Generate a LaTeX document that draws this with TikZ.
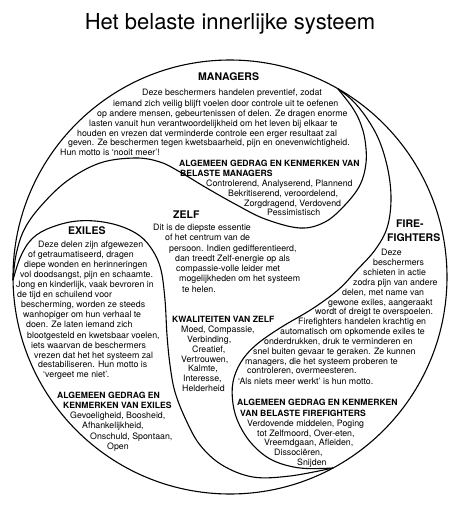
\documentclass[tikz,border=0pt]{standalone}
\usepackage{fontspec}
\setmainfont{TeX Gyre Heros}
\tikzset{
  body/.style={inner sep=0pt, anchor=base west, font=\fontsize{8.8}{10}\selectfont},
  subhead/.style={body, font=\fontsize{8.6}{10}\selectfont\bfseries},
  head/.style={inner sep=0pt, anchor=base west, font=\fontsize{10.5}{12}\selectfont\bfseries},
  border/.style={line width=1.1pt}
}
\begin{document}
\begin{tikzpicture}[x=1pt,y=-1pt]
\useasboundingbox (0,0) rectangle (458,519);

% title
\node[inner sep=0pt, anchor=base, font=\fontsize{22}{26}\selectfont] (title) at (230,30) {Het belaste innerlijke systeem};

% outer circle
\draw[border] (230,277) circle (217pt);

% managers boundary
\draw[border] plot[smooth, tension=0.6] coordinates {(13,280) (16,255) (24,230) (40,207) (67,181) (100,163) (135,158) (160,162) (180,172) (205,187) (235,204) (265,219) (300,228) (325,222) (345,205) (360,185) (366,163) (365,140) (360,122) (352,107) (338,89)};

% exiles boundary
\draw[border] plot[smooth, tension=0.6] coordinates {(13,280) (20,258) (30,241) (45,230) (70,222) (95,221) (120,226) (140,236) (153,251) (161,270) (165,300) (167,335) (170,365) (175,392) (186,420) (200,445) (222,465) (253,477) (290,476) (333,468)};

% firefighters boundary
\draw[border] plot[smooth, tension=0.6] coordinates {(338,89) (352,100) (366,117) (379,140) (388,170) (391,200) (387,228) (375,250) (357,270) (338,290) (312,309) (280,328) (256,345) (241,362) (233,382) (233,404) (239,424) (252,444) (272,460) (300,468) (333,468)};

% managers
\node[head] (mgrhead) at (198,80) {MANAGERS};
\foreach \x/\y/\words [count=\i] in {142/95/{Deze beschermers handelen preventief, zodat},
    113/106/{iemand zich veilig blijft voelen door controle uit te oefenen},
    97/116/{op andere mensen, gebeurtenissen of delen. Ze dragen enorme},
    89/126/{lasten vanuit hun verantwoordelijkheid om het leven bij elkaar te},
    77/136/{houden en vrezen dat verminderde controle een erger resultaat zal},
    68/145/{geven. Ze beschermen tegen kwetsbaarheid, pijn en onevenwichtigheid.},
    60/155/{Hun motto is ‘nooit meer’!}}
    \node[body] (mgr\i) at (\x,\y) {\words};
\node[subhead] (mgrsub1) at (179,166) {ALGEMEEN GEDRAG EN KENMERKEN VAN};
\node[subhead] (mgrsub2) at (180,176) {BELASTE MANAGERS};
\foreach \x/\y/\words [count=\i] in {206/186/{Controlerend, Analyserend, Plannend},
    228/196/{Bekritiserend, veroordelend,},
    244/206/{Zorgdragend, Verdovend},
    267/215/{Pessimistisch}}
    \node[body] (mgrtrait\i) at (\x,\y) {\words};

% zelf
\node[head] (selfhead) at (173,218) {ZELF};
\foreach \x/\y/\words [count=\i] in {153/230/{Dit is de diepste essentie},
    165/240/{of het centrum van de},
    169/251/{persoon. Indien gedifferentieerd,},
    175/261/{dan treedt Zelf-energie op als},
    176/271/{compassie-volle leider met},
    179/281/{mogelijkheden om het systeem},
    182/292/{te helen.}}
    \node[body] (self\i) at (\x,\y) {\words};
\node[subhead] (selfsub) at (172,322) {KWALITEITEN VAN ZELF};
\foreach \x/\y/\words [count=\i] in {181/332/{Moed, Compassie,},
    187/342/{Verbinding,},
    192/352/{Creatief,},
    181/362/{Vertrouwen,},
    188/371/{Kalmte,},
    183/381/{Interesse,},
    182/391/{Helderheid}}
    \node[body] (selftrait\i) at (\x,\y) {\words};

% exiles
\node[head] (exhead) at (68,234) {EXILES};
\foreach \x/\y/\words [count=\i] in {38/247/{Deze delen zijn afgewezen},
    28/257/{of getraumatiseerd, dragen},
    24/267/{diepe wonden en herinneringen},
    20/277/{vol doodsangst, pijn en schaamte.},
    16/287/{Jong en kinderlijk, vaak bevroren in},
    17/297/{de tijd en schuilend voor},
    21/307/{bescherming, worden ze steeds},
    23/317/{wanhopiger om hun verhaal te},
    26/327/{doen. Ze laten iemand zich},
    27/338/{blootgesteld en kwetsbaar voelen,},
    31/348/{iets waarvan de beschermers},
    34/358/{vrezen dat het het systeem zal},
    38/367/{destabiliseren. Hun motto is},
    43/377/{‘vergeet me niet’.}}
    \node[body] (ex\i) at (\x,\y) {\words};
\node[subhead] (exsub1) at (57,398) {ALGEMEEN GEDRAG EN};
\node[subhead] (exsub2) at (63,408) {KENMERKEN VAN EXILES};
\foreach \x/\y/\words [count=\i] in {70/418/{Gevoeligheid, Boosheid,},
    82/428/{Afhankelijkheid,},
    90/439/{Onschuld, Spontaan,},
    107/449/{Open}}
    \node[body] (extrait\i) at (\x,\y) {\words};

% firefighters
\node[head] (ffhead1) at (396,227) {FIRE-};
\node[head] (ffhead2) at (387,241) {FIGHTERS};
\foreach \x/\y/\words [count=\i] in {381/255/{Deze},
    373/265/{beschermers},
    363/275/{schieten in actie},
    353/285/{zodra pijn van andere},
    342/295/{delen, met name van},
    328/305/{gewone exiles, aangeraakt},
    315/314/{wordt of dreigt te overspoelen.},
    298/324/{Firefighters handelen krachtig en},
    280/334/{automatisch om opkomende exiles te},
    264/344/{onderdrukken, druk te verminderen en},
    253/354/{snel buiten gevaar te geraken. Ze kunnen},
    245/364/{managers, die het systeem proberen te},
    247/373/{controleren, overmeesteren.},
    238/384/{‘Als niets meer werkt’ is hun motto.}}
    \node[body] (ff\i) at (\x,\y) {\words};
\node[subhead] (ffsub1) at (237,405) {ALGEMEEN GEDRAG EN KENMERKEN};
\node[subhead] (ffsub2) at (240,416) {VAN BELASTE FIREFIGHTERS};
\foreach \x/\y/\words [count=\i] in {247/426/{Verdovende middelen, Poging},
    257/436/{tot Zelfmoord, Over-eten,},
    264/445/{Vreemdgaan, Afleiden,},
    274/455/{Dissociëren,},
    297/465/{Snijden}}
    \node[body] (fftrait\i) at (\x,\y) {\words};

\end{tikzpicture}
\end{document}
